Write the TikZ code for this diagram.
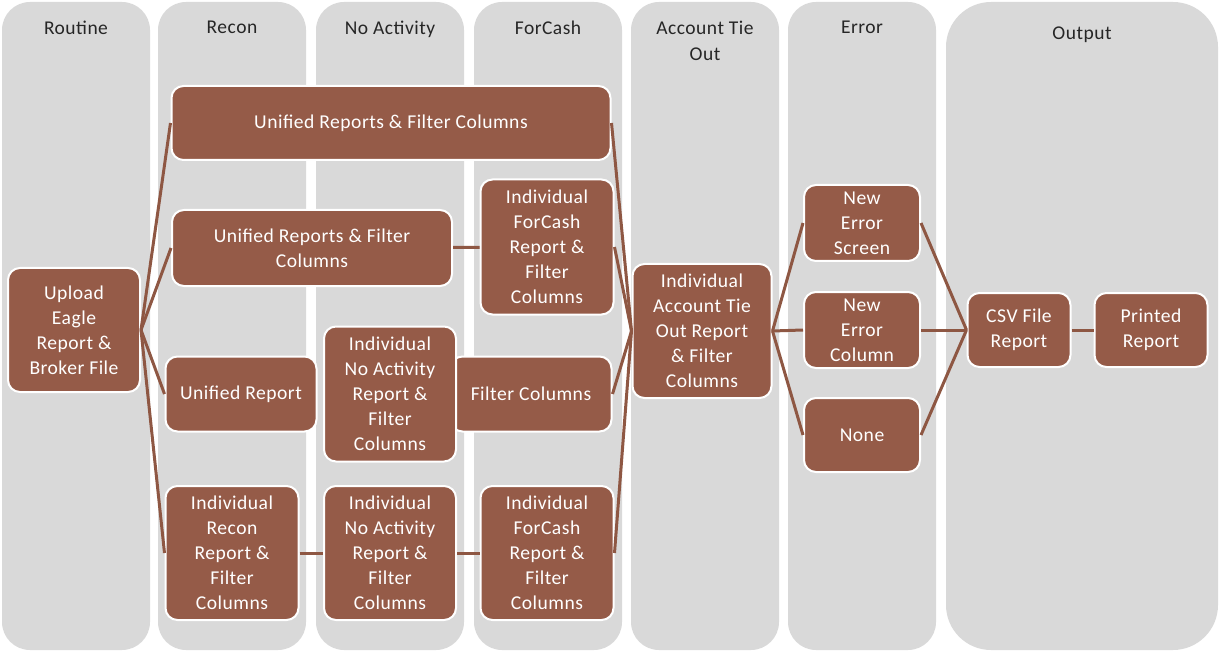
\documentclass[tikz,border=0pt]{standalone}
\usepackage{fontspec}
\setmainfont{Carlito}[LetterSpace=2.5]
\definecolor{lanegray}{HTML}{D9D9D9}
\definecolor{boxbrown}{HTML}{955B48}
\definecolor{linkbrown}{HTML}{8E5743}
\begin{document}
\begin{tikzpicture}[x=1pt, y=-1pt,
    lane/.style={fill=lanegray, rounded corners=28pt},
    lanetitle/.style={anchor=north, inner sep=0pt, align=center, text=black!85,
      font=\fontsize{19.5}{26}\selectfont},
    box/.style={draw=white, line width=2pt, fill=boxbrown, rounded corners=12pt,
      text=white, align=center, inner sep=0pt, font=\fontsize{19.6}{25}\selectfont},
    link/.style={linkbrown, line width=3pt}]

    \useasboundingbox (0,0) rectangle (1220,652);

    % swim lanes
    \foreach \x/\name [count=\i] in {2/Routine, 158/Recon, 316/No Activity,
        474/ForCash, 631/{Account Tie\\Out}, 788/Error} {
      \fill[lane] (\x,2) rectangle ++(148,648);
      \node[lanetitle] (title\i) at (\x+74,21) {\name};
    }
    \fill[lane, rounded corners=45pt] (946,2) rectangle (1218,650);
    \node[lanetitle] (title7) at (1082,27) {Output};

    % steps
    \node[box, minimum width=132, minimum height=124] (upload) at (74,330)
      {Upload\\Eagle\\Report \&\\Broker File};

    \node[box, minimum width=439, minimum height=74] (unifiedtop) at (391,123)
      {Unified Reports \& Filter Columns};
    \node[box, minimum width=280, minimum height=76] (unifiedmid) at (312,248)
      {Unified Reports \& Filter\\Columns};
    \node[box, minimum width=133, minimum height=135] (cashmid) at (547,247)
      {Individual\\ForCash\\Report \&\\Filter\\Columns};

    \node[box, minimum width=151, minimum height=75] (unifiedrep) at (241,394)
      {Unified Report};
    \node[box, minimum width=161, minimum height=75] (filtercols) at (531,394)
      {Filter Columns};
    \node[box, minimum width=132, minimum height=135] (nullmid) at (390,394)
      {Individual\\No Activity\\Report \&\\Filter\\Columns};

    \node[box, minimum width=133, minimum height=134] (recon) at (232,553)
      {Individual\\Recon\\Report \&\\Filter\\Columns};
    \node[box, minimum width=132, minimum height=134] (nullbot) at (390,553)
      {Individual\\No Activity\\Report \&\\Filter\\Columns};
    \node[box, minimum width=133, minimum height=134] (cashbot) at (547,553)
      {Individual\\ForCash\\Report \&\\Filter\\Columns};

    \node[box, minimum width=139, minimum height=134] (tieout) at (702,331)
      {Individual\\Account Tie\\Out Report\\\& Filter\\Columns};

    \node[box, minimum width=116, minimum height=76] (errscreen) at (862,223)
      {New\\Error\\Screen};
    \node[box, minimum width=116, minimum height=76] (errcol) at (862,330)
      {New\\Error\\Column};
    \node[box, minimum width=116, minimum height=74] (errnone) at (862,435)
      {None};

    \node[box, minimum width=103, minimum height=74] (csv) at (1019,330)
      {CSV File\\Report};
    \node[box, minimum width=113, minimum height=74] (printed) at (1151,330)
      {Printed\\Report};

    % links
    \foreach \n in {unifiedtop, unifiedmid, unifiedrep, recon}
      \draw[link] (upload.east) -- (\n.west);
    \draw[link] (unifiedmid) -- (cashmid);
    \draw[link] (recon) -- (nullbot);
    \draw[link] (nullbot) -- (cashbot);
    \foreach \n in {unifiedtop, cashmid, filtercols, cashbot}
      \draw[link] (\n.east) -- (tieout.west);
    \foreach \n in {errscreen, errcol, errnone} {
      \draw[link] (tieout.east) -- (\n.west);
      \draw[link] (\n.east) -- (csv.west);
    }
    \draw[link] (csv) -- (printed);

  \end{tikzpicture}
\end{document}
